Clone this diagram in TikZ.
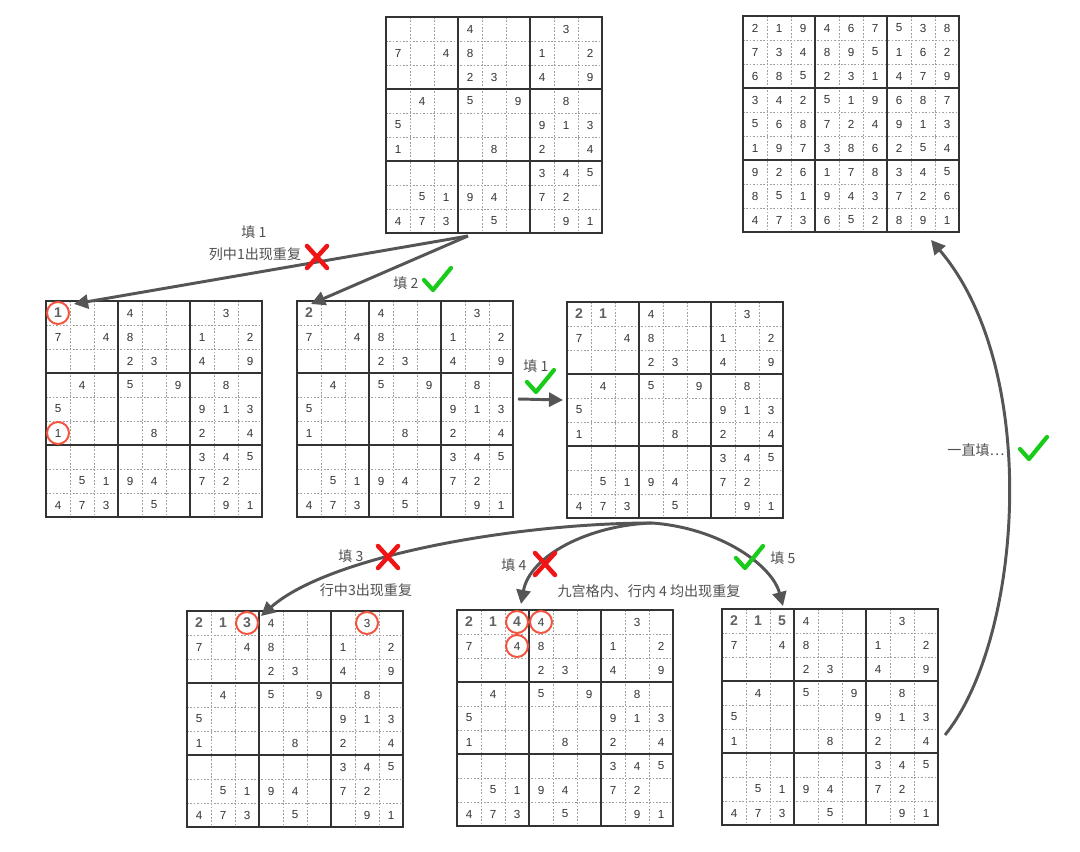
\documentclass[tikz,border=0pt]{standalone}
\usepackage{fontspec}
\setmainfont{Liberation Sans}
\newfontfamily\cjk{Noto Sans CJK SC}
\usepackage{xcolor}
\usetikzlibrary{arrows.meta}

\definecolor{gridcol}{HTML}{333333}
\definecolor{dotcol}{HTML}{A0A0A0}
\definecolor{arrowcol}{HTML}{555555}
\definecolor{ringcol}{HTML}{F2553F}
\definecolor{okcol}{HTML}{1ACC1A}
\definecolor{badcol}{HTML}{F01414}
\definecolor{notecol}{HTML}{505050}

\tikzset{
  gridbox/.style={draw=gridcol, line width=1.4pt, minimum size=5.4cm, inner sep=0pt, outer sep=0pt},
  blockline/.style={draw=gridcol, line width=1.4pt},
  cellline/.style={draw=dotcol, line width=0.6pt, dash pattern=on 1.2pt off 1.2pt},
  digit/.style={font=\fontsize{8.3}{9}\selectfont, text=gridcol},
  filled/.style={font=\fontsize{10}{11}\selectfont\bfseries, text=black!62},
  redring/.style={circle, draw=ringcol, line width=1.4pt, minimum size=0.55cm, inner sep=0pt},
  note/.style={font=\cjk\fontsize{10}{12}\selectfont, text=notecol},
  flow/.style={draw=arrowcol, line width=2.1pt, -{Triangle[length=10pt, width=10pt]}},
  tick/.pic={\draw[okcol, line width=3pt, line cap=round, line join=round] (-13,0) -- (-4,10) -- (14,-12);},
  cross/.pic={\draw[badcol, line width=3.2pt, line cap=round] (-10,-11) -- (10,11) (10,-11) -- (-10,11);}
}

% givens of the puzzle, 0 = empty cell
\def\puzzlerows{{0,0,0,4,0,0,0,3,0},{7,0,4,8,0,0,1,0,2},{0,0,0,2,3,0,4,0,9},%
  {0,4,0,5,0,9,0,8,0},{5,0,0,0,0,0,9,1,3},{1,0,0,0,8,0,2,0,4},%
  {0,0,0,0,0,0,3,4,5},{0,5,1,9,4,0,7,2,0},{4,7,3,0,5,0,0,9,1}}
% the finished grid
\def\solvedrows{{2,1,9,4,6,7,5,3,8},{7,3,4,8,9,5,1,6,2},{6,8,5,2,3,1,4,7,9},%
  {3,4,2,5,1,9,6,8,7},{5,6,8,7,2,4,9,1,3},{1,9,7,3,8,6,2,5,4},%
  {9,2,6,1,7,8,3,4,5},{8,5,1,9,4,3,7,2,6},{4,7,3,6,5,2,8,9,1}}

% #1 name, #2 top left corner, #3 rows, #4 filled cells r/c/v
\newcommand{\sudoku}[4]{%
  \begin{scope}[shift={(#2)}]
    \foreach \k in {1,2,4,5,7,8} {
      \draw[cellline] (\k*24,0) -- (\k*24,216);
      \draw[cellline] (0,\k*24) -- (216,\k*24);
    }
    \foreach \k in {3,6} {
      \draw[blockline] (\k*24,0) -- (\k*24,216);
      \draw[blockline] (0,\k*24) -- (216,\k*24);
    }
    \node[gridbox] (#1) at (108,108) {};
    \foreach \rowlist [count=\r] in #3 {
      \foreach \v [count=\c] in \rowlist {
        \ifnum\v>0 \node[digit] (#1-\r-\c) at (\c*24-12,\r*24-12) {\v};\fi
      }
    }
    \if\relax\detokenize{#4}\relax\else
      \foreach \r/\c/\v in {#4} {
        \node[filled] (#1-\r-\c) at (\c*24-12,\r*24-12) {\v};
      }
    \fi
  \end{scope}}

\begin{document}
\begin{tikzpicture}[x=0.025cm, y=-0.025cm]
    \useasboundingbox (0,0) rectangle (1080,852);

    % the grids
    \sudoku{T}{386,17}{\puzzlerows}{}
    \sudoku{S}{743,16}{\solvedrows}{}
    \sudoku{A}{46,301}{\puzzlerows}{1/1/1}
    \sudoku{B}{297,301}{\puzzlerows}{1/1/2}
    \sudoku{C}{567,302}{\puzzlerows}{1/1/2, 1/2/1}
    \sudoku{D}{187,611}{\puzzlerows}{1/1/2, 1/2/1, 1/3/3}
    \sudoku{E}{457,610}{\puzzlerows}{1/1/2, 1/2/1, 1/3/4}
    \sudoku{F}{722,609}{\puzzlerows}{1/1/2, 1/2/1, 1/3/5}

    % clashes
    \node[redring] (ring-a1) at (A-1-1) {};
    \node[redring] (ring-a2) at (A-6-1) {};
    \node[redring] (ring-d1) at (D-1-3) {};
    \node[redring] (ring-d2) at (D-1-8) {};
    \node[redring] (ring-e1) at (E-1-3) {};
    \node[redring] (ring-e2) at (E-1-4) {};
    \node[redring] (ring-e3) at (E-2-3) {};

    % ends of the arrows
    \coordinate (T-out) at (468,236);
    \coordinate (A-in) at (74,304);
    \coordinate (B-in) at (311,304);
    \coordinate (B-out) at (518,399);
    \coordinate (C-in) at (563,400);
    \coordinate (C-out) at (652,523);
    \coordinate (D-in) at (261,616);
    \coordinate (E-in) at (521,604);
    \coordinate (F-in) at (783,606);
    \coordinate (F-out) at (945,735);
    \coordinate (S-in) at (931,240);

    \draw[flow] (T-out) -- (A-in);
    \draw[flow] (T-out) -- (B-in);
    \draw[flow] (B-out) -- (C-in);
    \draw[flow] (C-out) .. controls (520,523) and (330,555) .. (D-in);
    \draw[flow] (C-out) .. controls (590,525) and (530,555) .. (E-in);
    \draw[flow] (C-out) .. controls (720,528) and (772,565) .. (F-in);
    \draw[flow] (F-out) .. controls (1022,640) and (1042,370) .. (S-in);

    % labels
    \node[note] (lab-a1) at (254,232) {填 1};
    \node[note] (lab-a2) at (255,254) {列中1出现重复};
    \node[note] (lab-b) at (406,283) {填 2};
    \node[note] (lab-c) at (536,366) {填 1};
    \node[note] (lab-d1) at (351,556) {填 3};
    \node[note] (lab-d2) at (366,590) {行中3出现重复};
    \node[note] (lab-e1) at (514,565) {填 4};
    \node[note] (lab-e2) at (649,591) {九宫格内、行内 4 均出现重复};
    \node[note] (lab-f) at (783,558) {填 5};
    \node[note] (lab-s) at (976,450) {一直填…};

    \pic at (317,257) {cross};
    \pic at (437,280) {tick};
    \pic at (540,382) {tick};
    \pic at (388,557) {cross};
    \pic at (545,564) {cross};
    \pic at (749,558) {tick};
    \pic at (1033,449) {tick};
\end{tikzpicture}
\end{document}
